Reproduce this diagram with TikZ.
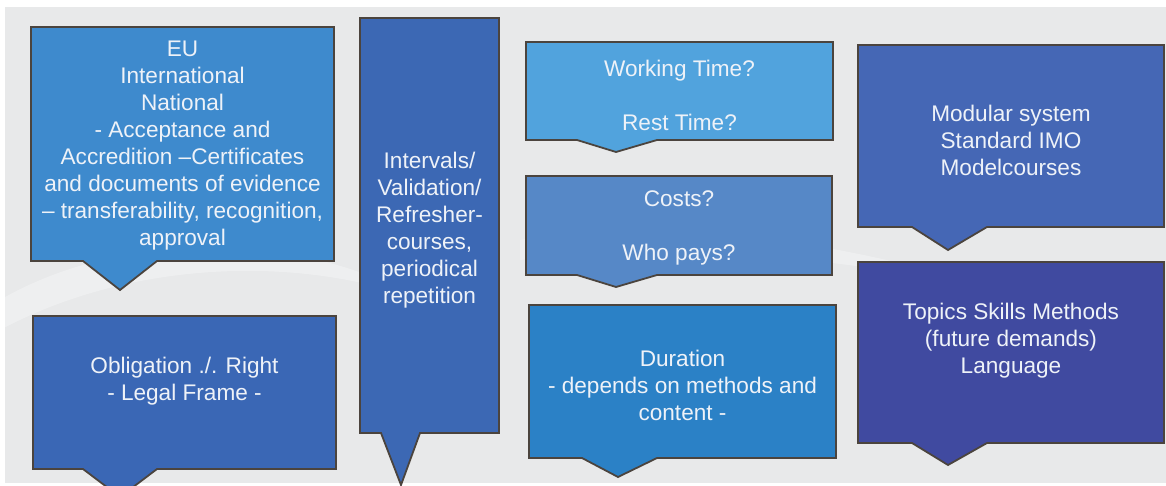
\documentclass[tikz,border=0pt]{standalone}
\usepackage{fontspec}
\setmainfont{Liberation Sans}
\definecolor{bgc}{RGB}{232,233,234}
\definecolor{edgec}{RGB}{75,68,62}
\definecolor{txtc}{RGB}{238,242,248}
\definecolor{cA}{RGB}{62,138,205}
\definecolor{cB}{RGB}{58,103,181}
\definecolor{cC}{RGB}{60,104,180}
\definecolor{cD}{RGB}{81,163,221}
\definecolor{cE}{RGB}{86,136,199}
\definecolor{cF}{RGB}{43,129,198}
\definecolor{cG}{RGB}{69,103,181}
\definecolor{cH}{RGB}{64,74,160}
\tikzset{
  callout/.style={draw=edgec, line width=1.8pt, line join=miter},
  lbl/.style={text=txtc, align=center, inner sep=0pt, font=\fontsize{22.6}{27}\selectfont}
}
% #1 fill, #2 left, #3 top, #4 right, #5 bottom, #6 base-left, #7 base-right, #8 tip x, #9 tip y
\newcommand{\calloutbox}[9]{%
  \path[callout, fill=#1] (#2,#3) -- (#4,#3) -- (#4,#5) -- (#7,#5) -- (#8,#9) -- (#6,#5) -- (#2,#5) -- cycle;%
}
\begin{document}
\begin{tikzpicture}[x=1pt,y=-1pt]
\useasboundingbox (0,0) rectangle (1166,486);
\clip (0,0) rectangle (1166,486);
\fill[white] (0,0) rectangle (1166,486);
\fill[bgc] (5,7) rectangle (1166,483);
% faint watermark swooshes
\begin{scope}[white, opacity=0.3]
  \fill (0,300) .. controls (120,230) and (300,230) .. (420,300) .. controls (300,255) and (130,260) .. (0,330) -- cycle;
  \fill (520,240) .. controls (650,220) and (800,230) .. (1000,290) .. controls (800,250) and (650,245) .. (520,260) -- cycle;
\end{scope}
\calloutbox{cA}{31}{27}{334}{261}{83}{157}{120}{290}
\calloutbox{cB}{33}{316}{336}{469}{83}{157}{120}{497}
\calloutbox{cC}{360}{18}{499}{433}{381}{420}{401}{485}
\calloutbox{cD}{526}{42}{833}{140}{577}{657}{616}{152}
\calloutbox{cE}{526}{176}{832}{275}{577}{657}{616}{287}
\calloutbox{cF}{529}{305}{836}{458}{582}{657}{618}{477}
\calloutbox{cG}{858}{45}{1164}{227}{912}{987}{948}{250}
\calloutbox{cH}{858}{262}{1164}{443}{912}{987}{948}{465}
\node[lbl] (tA) at (182.5,146) {EU\\International\\National\\- Acceptance and\\Accredition –Certificates\\and documents of evidence\\– transferability, recognition,\\approval};
\node[lbl] (tB) at (184.5,381.5) {Obligation ./. Right\\- Legal Frame -};
\node[lbl] (tC) at (429.5,230) {Intervals/\\Validation/\\Refresher-\\courses,\\periodical\\repetition};
\node[lbl] (tD) at (679.5,95) {Working Time?\\[27pt]Rest Time?};
\node[lbl] (tE) at (679,228) {Costs?\\[27pt]Who pays?};
\node[lbl] (tF) at (682.5,385) {Duration\\- depends on methods and\\content -};
\node[lbl] (tG) at (1011,140) {Modular system\\Standard IMO\\Modelcourses};
\node[lbl] (tH) at (1011,341) {Topics Skills Methods\\(future demands)\\Language};
\end{tikzpicture}
\end{document}
